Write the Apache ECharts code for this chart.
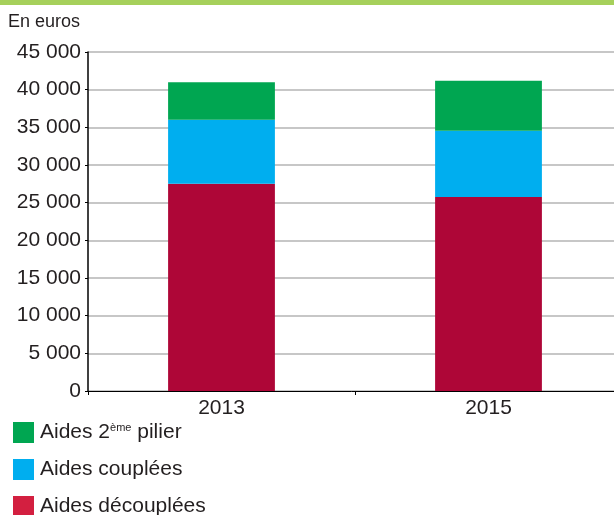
<!DOCTYPE html>
<html>
<head>
<meta charset="utf-8">
<script src="https://cdn.jsdelivr.net/npm/echarts@6/dist/echarts.min.js"></script>
<style>
  html, body { margin: 0; padding: 0; background: #fff; }
  #chart { width: 614px; height: 515px; }
</style>
</head>
<body>
<div id="chart"></div>
<script>
// données (euros)
const years = ["2013", "2015"];
const aidesDecouplees = [27500, 25750];
const aidesCouplees = [8500, 8800];
const aidesPilier2 = [5000, 6650];
const legendNames = ["Aides 2ème pilier", "Aides couplées", "Aides découplées"];

var chartDom = document.getElementById("chart");
var myChart = echarts.init(chartDom);

const fmt = v => String(v).replace(/\B(?=(\d{3})+(?!\d))/g, " ");
const font = "'Liberation Sans', Arial, sans-serif";

var option = {
  animation: false,
  backgroundColor: "#fff",
  graphic: [
    {
      type: "rect",
      left: 0,
      top: 0,
      shape: { width: 614, height: 5 },
      style: { fill: "#a6d05b" }
    }
  ],
  title: {
    text: "En euros",
    left: 3,
    top: 8,
    textStyle: { fontSize: 18, fontWeight: "normal", color: "#231f20", fontFamily: font }
  },
  grid: {
    left: 88,
    top: 52,
    width: 534,
    height: 339,
    outerBoundsMode: "none"
  },
  legend: {
    orient: "vertical",
    left: 8,
    top: 417,
    height: 120,
    itemWidth: 21,
    itemHeight: 21,
    itemGap: 16,
    icon: "rect",
    data: [
      { name: legendNames[0] },
      { name: legendNames[1] },
      { name: legendNames[2], itemStyle: { color: "#d31f40" } }
    ],
    formatter: name => name.replace("2ème", "2{s|ème}"),
    textStyle: {
      fontSize: 21,
      lineHeight: 21,
      color: "#231f20",
      fontFamily: font,
      padding: [0, 0, 0, 1],
      rich: {
        s: { fontSize: 11, verticalAlign: "top", padding: [0, 0, 8, 0], fontFamily: font, color: "#231f20" }
      }
    }
  },
  xAxis: {
    type: "category",
    data: years,
    axisLine: { lineStyle: { color: "#000", width: 1 } },
    axisTick: { show: true, length: 4, lineStyle: { color: "#000" } },
    axisLabel: { fontSize: 21, color: "#231f20", fontFamily: font, margin: 7 }
  },
  yAxis: {
    type: "value",
    min: 0,
    max: 45000,
    interval: 5000,
    axisLine: { show: true, lineStyle: { color: "#000", width: 1.5 } },
    axisTick: { show: true, length: 3, lineStyle: { color: "#000" } },
    splitLine: { lineStyle: { color: "#b4b4b4", width: 1.5 } },
    axisLabel: { fontSize: 21, color: "#231f20", fontFamily: font, margin: 7, formatter: fmt }
  },
  series: [
    {
      name: legendNames[2],
      type: "bar",
      stack: "total",
      barWidth: "40%",
      itemStyle: { color: "#ae0637" },
      data: aidesDecouplees
    },
    {
      name: legendNames[1],
      type: "bar",
      stack: "total",
      itemStyle: { color: "#00aeef" },
      data: aidesCouplees
    },
    {
      name: legendNames[0],
      type: "bar",
      stack: "total",
      itemStyle: { color: "#00a651" },
      data: aidesPilier2
    }
  ]
};

option && myChart.setOption(option);
</script>
</body>
</html>
